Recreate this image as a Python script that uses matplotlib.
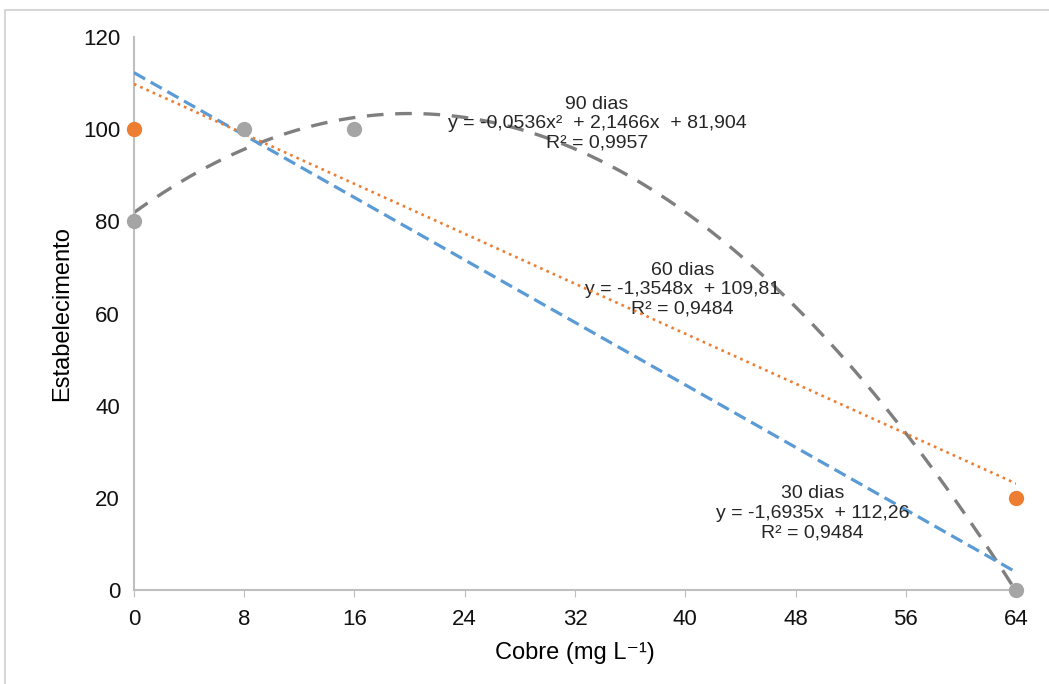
import numpy as np
import matplotlib
matplotlib.use("Agg")
import matplotlib.pyplot as plt
from matplotlib.patches import Rectangle

plt.rcParams['font.family'] = ['Liberation Sans', 'DejaVu Sans']

# data
x_ticks = [0, 8, 16, 24, 32, 40, 48, 56, 64]
y_ticks = [0, 20, 40, 60, 80, 100, 120]

x_60 = [0, 64]
y_60 = [100, 20]
x_90 = [0, 8, 16, 64]
y_90 = [80, 100, 100, 0]

# trendline coefficients
fit_30 = [-1.6935, 112.26]
fit_60 = [-1.3548, 109.81]
fit_90 = [-0.0536, 2.1466, 81.904]

labels = {
    "30": "30 dias\ny = -1,6935x  + 112,26\nR\u00b2 = 0,9484",
    "60": "60 dias\ny = -1,3548x  + 109,81\nR\u00b2 = 0,9484",
    "90": "90 dias\ny = -0,0536x\u00b2  + 2,1466x  + 81,904\nR\u00b2 = 0,9957",
}


def main():
    fig = plt.figure(figsize=(10.49, 6.84), dpi=100)
    fig.patches.append(Rectangle((0.005, -0.01), 1.2, 0.996, transform=fig.transFigure,
                                 fill=False, edgecolor="#d0d0d0", linewidth=1.2))
    ax = fig.add_axes([0.1277, 0.1374, 0.8409, 0.8085])

    xs = np.linspace(0, 64, 300)
    ax.plot(xs, np.polyval(fit_90, xs), color="#7f7f7f", lw=2.4, ls=(0, (5, 3.5)), zorder=2)
    ax.plot(xs, np.polyval(fit_30, xs), color="#5b9bd5", lw=2.3, ls=(0, (4, 2)), zorder=3)
    ax.plot(xs, np.polyval(fit_60, xs), color="#ed7d31", lw=1.9, ls=(0, (1, 1.6)), zorder=4)

    ax.plot(x_90, y_90, "o", color="#a5a5a5", ms=10, clip_on=False, zorder=5)
    ax.plot(x_60, y_60, "o", color="#ed7d31", ms=10, clip_on=False, zorder=6)

    ax.set_xlim(0, 64)
    ax.set_ylim(0, 120)
    ax.set_xticks(x_ticks)
    ax.set_yticks(y_ticks)
    ax.tick_params(labelsize=16, colors="#bfbfbf", labelcolor="#111111", length=5)
    ax.tick_params(axis="x", pad=9)
    ax.tick_params(axis="y", pad=10, length=0)
    for s in ["top", "right"]:
        ax.spines[s].set_visible(False)
    for s in ["left", "bottom"]:
        ax.spines[s].set_color("#bfbfbf")
        ax.spines[s].set_linewidth(1.5)

    ax.set_xlabel("Cobre (mg L\u207b\u00b9)", fontsize=17, labelpad=8)
    ax.set_ylabel("Estabelecimento", fontsize=17, labelpad=7)

    kw = dict(transform=ax.transAxes, ha="center", va="center", fontsize=14,
              linespacing=1.2, color="#262626")
    ax.text(0.525, 0.843, labels["90"], **kw)
    ax.text(0.622, 0.543, labels["60"], **kw)
    ax.text(0.769, 0.139, labels["30"], **kw)

    fig.savefig("out.png", dpi=100)


if __name__ == "__main__":
    main()
